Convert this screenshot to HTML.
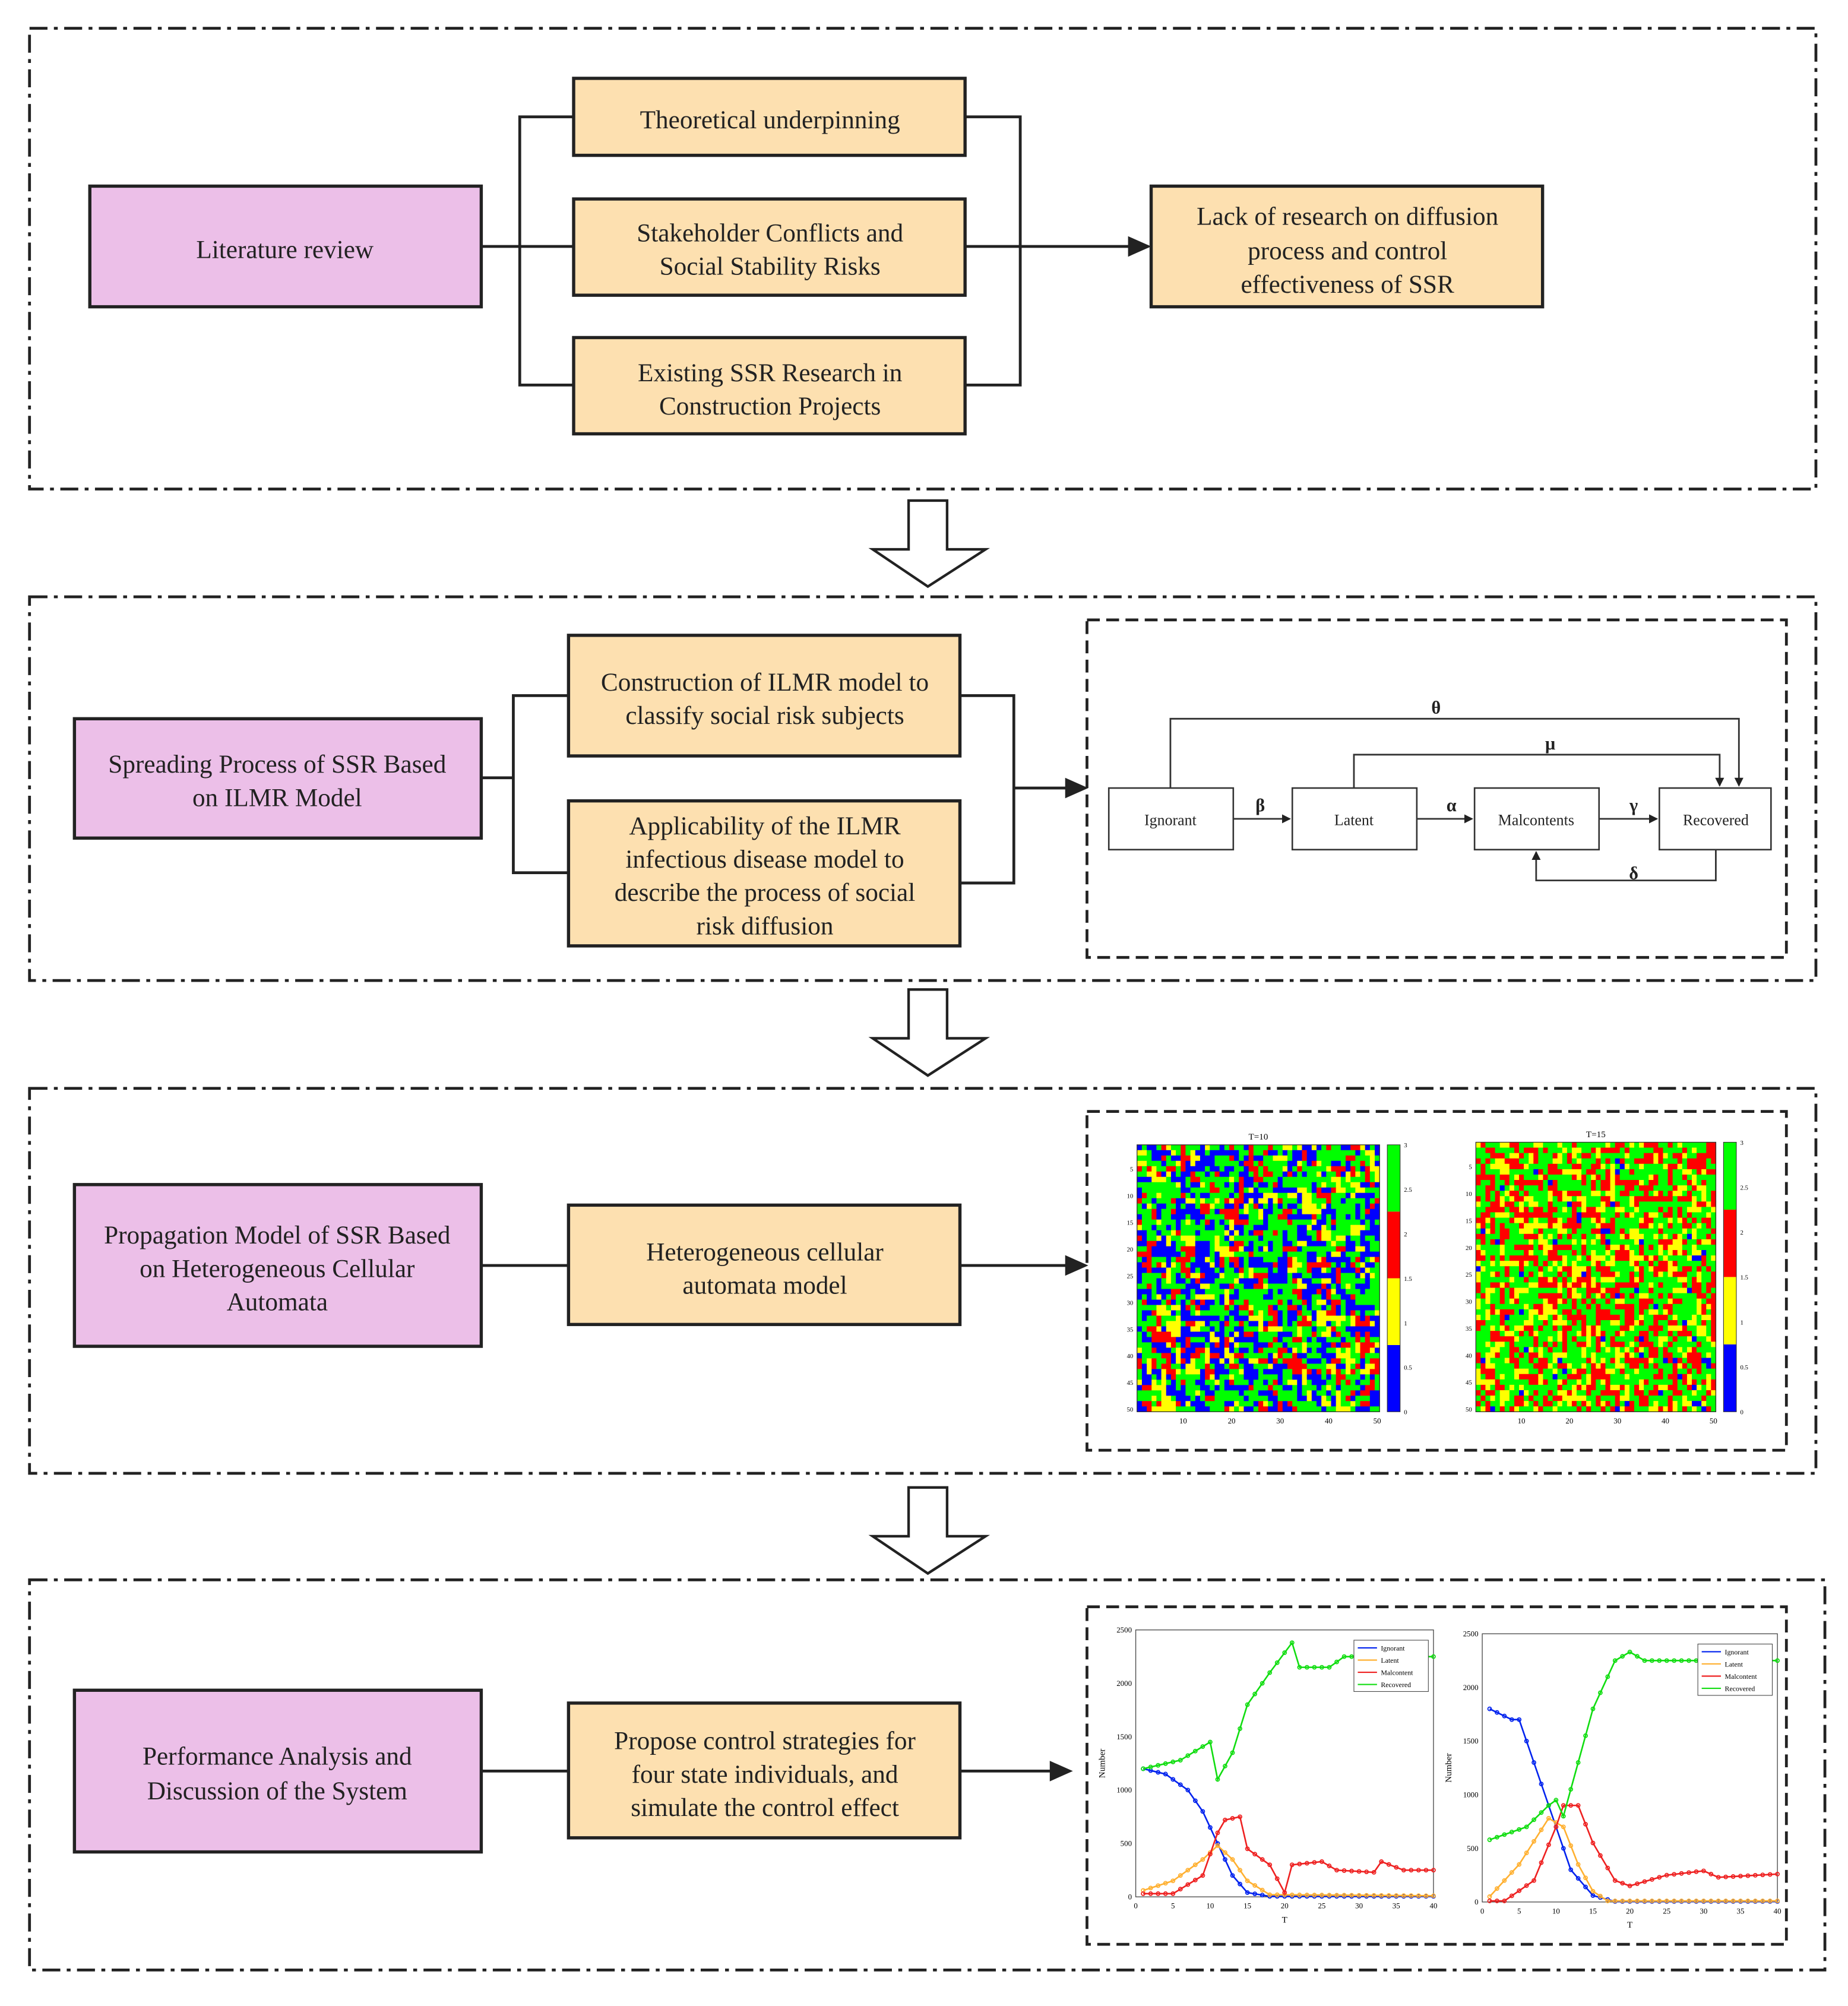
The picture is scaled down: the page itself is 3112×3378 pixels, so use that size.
<!DOCTYPE html>
<html><head><meta charset="utf-8">
<style>
html,body{margin:0;padding:0;background:#fff;}
svg{display:block;}
text{font-family:"Liberation Serif",serif;}
</style></head>
<body>
<svg id="s" width="3112" height="3378" viewBox="0 0 1440 1563" xmlns="http://www.w3.org/2000/svg">
<defs>
<marker id="ah" markerWidth="10" markerHeight="10" refX="9" refY="5" orient="auto" markerUnits="userSpaceOnUse">
<path d="M0,0 L10,5 L0,10 z" fill="#222"/></marker>
<marker id="as" markerWidth="7" markerHeight="7" refX="6" refY="3.5" orient="auto" markerUnits="userSpaceOnUse">
<path d="M0,0 L7,3.5 L0,7 z" fill="#222"/></marker>
</defs>
<rect width="1440" height="1563" fill="#fff"/>
<g fill="none" stroke="#222" stroke-width="2.2" stroke-dasharray="14,5,3,5">
<rect x="23" y="22" width="1392" height="359"/>
<rect x="23" y="465" width="1392" height="299"/>
<rect x="23" y="848" width="1392" height="300"/>
<rect x="23" y="1231" width="1399" height="304"/>
</g>
<g fill="none" stroke="#222" stroke-width="2.2" stroke-dasharray="10,5">
<rect x="847" y="483" width="545" height="263"/>
<rect x="847" y="866" width="545" height="264"/>
<rect x="847" y="1252" width="545" height="263"/>
</g>
<!-- big arrows -->
<g fill="#fff" stroke="#222" stroke-width="2">
<path d="M708,390 H738 V428 H768 L723,457 L680,428 H708 Z"/>
<path d="M708,771 H738 V809 H768 L723,838 L680,809 H708 Z"/>
<path d="M708,1159 H738 V1197 H768 L723,1226 L680,1197 H708 Z"/>
</g>
<!-- boxes -->
<g stroke="#222" stroke-width="2.5">
<rect x="70" y="145" width="305" height="94" fill="#ecbfe8"/>
<rect x="447" y="61" width="305" height="60" fill="#fde0b0"/>
<rect x="447" y="155" width="305" height="75" fill="#fde0b0"/>
<rect x="447" y="263" width="305" height="75" fill="#fde0b0"/>
<rect x="897" y="145" width="305" height="94" fill="#fde0b0"/>
<rect x="58" y="560" width="317" height="93" fill="#ecbfe8"/>
<rect x="443" y="495" width="305" height="94" fill="#fde0b0"/>
<rect x="443" y="624" width="305" height="113" fill="#fde0b0"/>
<rect x="58" y="923" width="317" height="126" fill="#ecbfe8"/>
<rect x="443" y="939" width="305" height="93" fill="#fde0b0"/>
<rect x="58" y="1317" width="317" height="126" fill="#ecbfe8"/>
<rect x="443" y="1327" width="305" height="105" fill="#fde0b0"/>
</g>
<!-- connectors -->
<g fill="none" stroke="#222" stroke-width="2.2">
<path d="M375,192 H447 M447,91 H405 V300 H447 M752,91 H795 V300 H752 M752,192 H895" />
<path d="M375,606 H400 M443,542 H400 V680 H443 M748,542 H790 V688 H748 M790,614 H845"/>
<path d="M375,986 H443 M748,986 H845"/>
<path d="M375,1380 H443 M748,1380 H833"/>
</g>
<g fill="#222">
<path d="M897,192 L879,184 L879,200Z"/>
<path d="M848,614 L830,606 L830,622Z"/>
<path d="M848,986 L830,978 L830,994Z"/>
<path d="M836,1380 L818,1372 L818,1388Z"/>
</g>
<g font-size="20" fill="#222" text-anchor="middle">
<text x="222" y="201">Literature review</text>
<text x="600" y="100">Theoretical underpinning</text>
<text x="600" y="188">Stakeholder Conflicts and</text>
<text x="600" y="214">Social Stability Risks</text>
<text x="600" y="297">Existing SSR Research in</text>
<text x="600" y="323">Construction Projects</text>
<text x="1050" y="175">Lack of research on diffusion</text>
<text x="1050" y="202">process and control</text>
<text x="1050" y="228">effectiveness of SSR</text>
<text x="216" y="602">Spreading Process of SSR Based</text>
<text x="216" y="628">on ILMR Model</text>
<text x="596" y="538">Construction of ILMR model to</text>
<text x="596" y="564">classify social risk subjects</text>
<text x="596" y="650">Applicability of the ILMR</text>
<text x="596" y="676">infectious disease model to</text>
<text x="596" y="702">describe the process of social</text>
<text x="596" y="728">risk diffusion</text>
<text x="216" y="969">Propagation Model of SSR Based</text>
<text x="216" y="995">on Heterogeneous Cellular</text>
<text x="216" y="1021">Automata</text>
<text x="596" y="982">Heterogeneous cellular</text>
<text x="596" y="1008">automata model</text>
<text x="216" y="1375">Performance Analysis and</text>
<text x="216" y="1402">Discussion of the System</text>
<text x="596" y="1363">Propose control strategies for</text>
<text x="596" y="1389">four state individuals, and</text>
<text x="596" y="1415">simulate the control effect</text>
</g>
<!-- ILMR flow -->
<g stroke="#333" stroke-width="1.2" fill="#fff">
<rect x="864" y="614" width="97" height="48"/>
<rect x="1007" y="614" width="97" height="48"/>
<rect x="1149" y="614" width="97" height="48"/>
<rect x="1293" y="614" width="87" height="48"/>
</g>
<g stroke="#333" stroke-width="1.3" fill="none">
<path d="M961,638 H1005" marker-end="url(#as)"/>
<path d="M1104,638 H1147" marker-end="url(#as)"/>
<path d="M1246,638 H1291" marker-end="url(#as)"/>
<path d="M912,614 V560 H1355 V612" marker-end="url(#as)"/>
<path d="M1055,614 V588 H1340 V612" marker-end="url(#as)"/>
<path d="M1337,662 V686 H1197 V664" marker-end="url(#as)"/>
</g>
<g font-family="Liberation Mono" font-size="12" fill="#222" text-anchor="middle">
<text x="912" y="643">Ignorant</text><text x="1055" y="643">Latent</text>
<text x="1197" y="643">Malcontents</text><text x="1337" y="643">Recovered</text>
</g>
<g font-size="14" font-weight="bold" fill="#222" text-anchor="middle">
<text x="982" y="632">β</text><text x="1131" y="632">α</text><text x="1273" y="632">γ</text>
<text x="1119" y="556">θ</text><text x="1208" y="584">μ</text><text x="1273" y="685">δ</text>
</g>
<g id="hm"></g>
<g id="pl"></g>
</svg>
<script>
var NS="http://www.w3.org/2000/svg";
function el(p,t,a,txt){var e=document.createElementNS(NS,t);for(var k in a)e.setAttribute(k,a[k]);if(txt!=null)e.textContent=txt;p.appendChild(e);return e;}
var seed=7;function rnd(){seed=(seed*16807)%2147483647;return seed/2147483647;}
var hm=document.getElementById('hm');
var cols=['#0000ff','#ffff00','#ff0000','#00ff00'];
function heat(x0,y0,w,h,probs,clust,title){
 var n=50,cw=w/n,ch=h/n,g=[];
 for(var i=0;i<n;i++){g[i]=[];for(var j=0;j<n;j++){var r=rnd(),c=0,acc=0;for(var k=0;k<4;k++){acc+=probs[k];if(r<acc){c=k;break;}c=3;}
  if(clust&&i>0&&j>0&&rnd()<clust){c=rnd()<0.5?g[i-1][j]:g[i][j-1];}
  g[i][j]=c;el(hm,'rect',{x:x0+j*cw,y:y0+i*ch,width:cw+0.3,height:ch+0.3,fill:cols[c]});}}
 el(hm,'rect',{x:x0,y:y0,width:w,height:h,fill:'none',stroke:'#333','stroke-width':0.6});
 el(hm,'text',{x:x0+w/2,y:y0-4,'font-size':7,'text-anchor':'middle','font-family':'Liberation Sans'},title);
 var cb=x0+w+6;for(var k=0;k<4;k++)el(hm,'rect',{x:cb,y:y0+(3-k)*h/4,width:10,height:h/4,fill:cols[k]});
 el(hm,'rect',{x:cb,y:y0,width:10,height:h,fill:'none',stroke:'#333','stroke-width':0.5});
 ['3','2.5','2','1.5','1','0.5','0'].forEach(function(t,i){el(hm,'text',{x:cb+13,y:y0+i*h/6+2,'font-size':5,'font-family':'Liberation Sans'},t);});
 [5,10,15,20,25,30,35,40,45,50].forEach(function(v){el(hm,'text',{x:x0-3,y:y0+(v-0.5)*ch+2,'font-size':5,'text-anchor':'end','font-family':'Liberation Sans'},v);});
 [10,20,30,40,50].forEach(function(v){el(hm,'text',{x:x0+(v-0.5)*cw,y:y0+h+9,'font-size':6,'text-anchor':'middle','font-family':'Liberation Sans'},v);});
}
heat(886,892,189,208,[0.32,0.14,0.16,0.38],0.35,'T=10');
heat(1150,890,187,210,[0.02,0.2,0.33,0.45],0.15,'T=15');
var pl=document.getElementById('pl');
function plot(x0,y0,x1,y1,series){
 el(pl,'rect',{x:x0,y:y0,width:x1-x0,height:y1-y0,fill:'#fff',stroke:'#444','stroke-width':0.6});
 function X(v){return x0+(x1-x0)*v/40;}function Y(v){return y1-(y1-y0)*v/2500;}
 [0,500,1000,1500,2000,2500].forEach(function(v){el(pl,'text',{x:x0-3,y:Y(v)+2,'font-size':6,'text-anchor':'end','font-family':'Liberation Sans'},v);});
 [0,5,10,15,20,25,30,35,40].forEach(function(v){el(pl,'text',{x:X(v),y:y1+9,'font-size':6,'text-anchor':'middle','font-family':'Liberation Sans'},v);});
 el(pl,'text',{x:X(20),y:y1+20,'font-size':7,'text-anchor':'middle','font-family':'Liberation Sans'},'T');
 var t=el(pl,'text',{x:x0-24,y:(y0+y1)/2,'font-size':7,'text-anchor':'middle','font-family':'Liberation Sans',transform:'rotate(-90 '+(x0-24)+' '+((y0+y1)/2)+')'},'Number');
 var cs=['#0022ee','#ffb030','#ee2020','#10dd10'];
 series.forEach(function(kp,si){
  var pts=[];for(var t=1;t<=40;t++){var v=0;for(var k=0;k<kp.length-1;k++){if(t>=kp[k][0]&&t<=kp[k+1][0]){var f=(t-kp[k][0])/(kp[k+1][0]-kp[k][0]);v=kp[k][1]+f*(kp[k+1][1]-kp[k][1]);}}if(t>kp[kp.length-1][0])v=kp[kp.length-1][1];pts.push([X(t),Y(v)]);}
  el(pl,'polyline',{points:pts.map(function(p){return p.join(',')}).join(' '),fill:'none',stroke:cs[si],'stroke-width':1.2});
  pts.forEach(function(p){el(pl,'circle',{cx:p[0],cy:p[1],r:1.4,fill:'none',stroke:cs[si],'stroke-width':0.8});});
 });
 var lx=x1-62,ly=y0+8;el(pl,'rect',{x:lx,y:ly,width:58,height:40,fill:'#fff',stroke:'#444','stroke-width':0.5});
 ['Ignorant','Latent','Malcontent','Recovered'].forEach(function(n,i){el(pl,'line',{x1:lx+3,x2:lx+18,y1:ly+6+i*9.5,y2:ly+6+i*9.5,stroke:cs[i],'stroke-width':1});el(pl,'text',{x:lx+21,y:ly+8+i*9.5,'font-size':5.5,'font-family':'Liberation Sans'},n);});
}
plot(885,1270,1117,1478,[
 [[1,1200],[4,1150],[7,1000],[9,800],[11,500],[13,200],[15,40],[18,5],[40,5]],
 [[1,60],[5,150],[9,350],[11,480],[13,350],[15,150],[18,20],[40,10]],
 [[1,30],[5,30],[9,200],[11,600],[12,720],[14,750],[15,450],[18,300],[20,40],[21,300],[25,330],[27,250],[32,230],[33,330],[36,250],[40,250]],
 [[1,1200],[6,1280],[10,1450],[11,1100],[13,1350],[15,1800],[18,2100],[21,2380],[22,2150],[26,2150],[28,2250],[40,2250]]]);
plot(1155,1273,1385,1482,[
 [[1,1800],[4,1700],[5,1700],[7,1300],[10,700],[12,300],[15,60],[18,5],[40,5]],
 [[1,50],[5,350],[9,780],[11,700],[13,350],[15,100],[17,10],[40,10]],
 [[1,10],[3,10],[7,200],[10,700],[11,900],[13,900],[15,550],[18,200],[20,150],[25,250],[30,290],[32,230],[40,260]],
 [[1,580],[6,700],[9,900],[10,950],[11,800],[13,1300],[15,1800],[18,2250],[20,2330],[22,2250],[25,2250],[40,2250]]]);
</script>
</body></html>
